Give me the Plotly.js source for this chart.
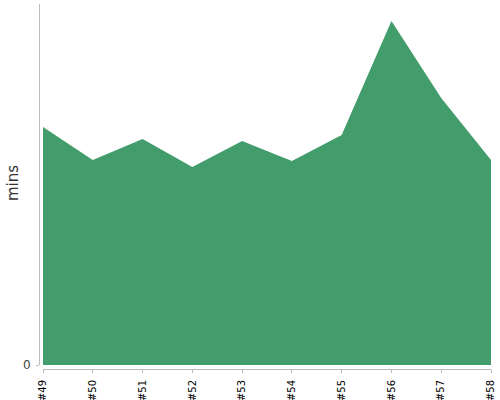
<!DOCTYPE html>
<html>
<head>
<meta charset="utf-8">
<script src="https://cdn.plot.ly/plotly-3.0.1.min.js"></script>
<style>html,body{margin:0;padding:0;background:#fff;}#chart{width:500px;height:400px;}</style>
</head>
<body>
<div id="chart"></div>
<script>
const builds = ["#49","#50","#51","#52","#53","#54","#55","#56","#57","#58"];
const mins = [23.8, 20.5, 22.6, 19.8, 22.4, 20.4, 23.0, 34.4, 26.7, 20.5];
const yTickVals = [0];
const yTickText = ["0"];
const yTitle = "mins";

const FONT = 'DejaVu Sans';

const trace = {
  x: builds,
  y: mins,
  type: 'scatter',
  mode: 'none',
  fill: 'tozeroy',
  fillcolor: 'rgb(67,156,108)',
  hoverinfo: 'x+y'
};

const layout = {
  width: 500,
  height: 400,
  margin: {l: 39, r: 9, t: 4, b: 31, pad: 0},
  paper_bgcolor: '#fff',
  plot_bgcolor: '#fff',
  showlegend: false,
  font: {family: FONT},
  xaxis: {
    type: 'category',
    domain: [4/452, 1],
    anchor: 'free',
    position: 0,
    range: [0, 9],
    showgrid: false,
    zeroline: false,
    showline: true,
    linecolor: '#bbb',
    linewidth: 1,
    ticks: 'outside',
    ticklen: 3,
    tickcolor: '#bbb',
    tickangle: -90,
    ticklabelstandoff: 3,
    tickfont: {family: FONT, size: 10, color: '#000'}
  },
  yaxis: {
    domain: [4/365, 1],
    anchor: 'free',
    position: 0,
    range: [0, 36.1],
    showgrid: false,
    zeroline: false,
    showline: true,
    linecolor: '#bbb',
    linewidth: 1,
    ticks: 'outside',
    ticklen: 3,
    tickcolor: '#bbb',
    tickvals: yTickVals,
    ticktext: yTickText,
    ticklabelstandoff: 3,
    tickfont: {family: FONT, size: 12, color: '#444'}
  },
  annotations: [{
    text: yTitle,
    xref: 'paper', yref: 'paper',
    x: (13 - 39) / 452, y: (369 - 183) / 365,
    xanchor: 'center', yanchor: 'middle',
    textangle: -90,
    showarrow: false,
    font: {family: FONT, size: 15, color: '#333'}
  }]
};

Plotly.newPlot('chart', [trace], layout, {displayModeBar: false, staticPlot: true});
</script>
</body>
</html>
